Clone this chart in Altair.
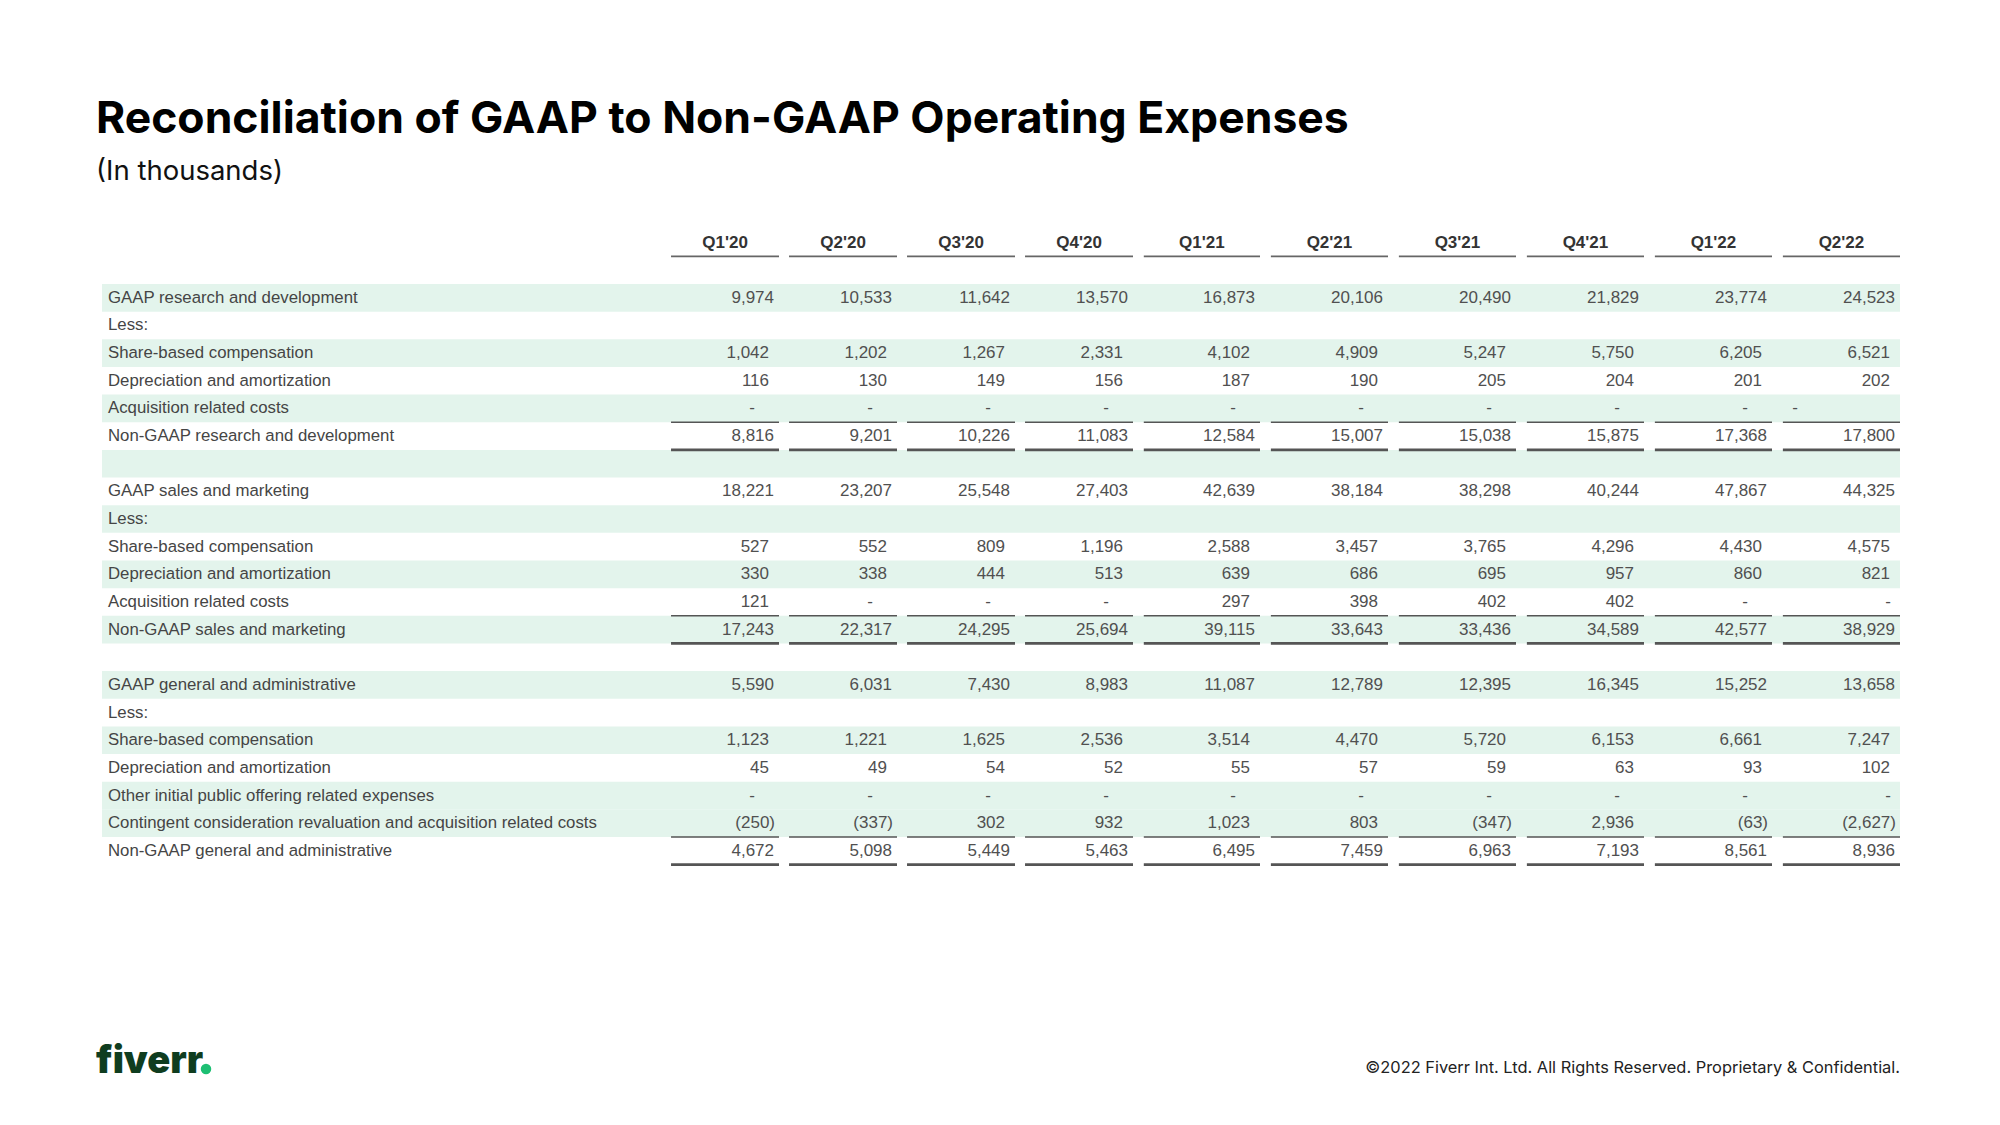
import altair as alt
import pandas as pd

TITLE = "Reconciliation of GAAP to Non-GAAP Operating Expenses"
SUBTITLE = "(In thousands)"
FOOTER = "©2022 Fiverr Int. Ltd. All Rights Reserved. Proprietary & Confidential."
LOGO = "fiverr"

QUARTERS = ["Q1'20", "Q2'20", "Q3'20", "Q4'20", "Q1'21", "Q2'21", "Q3'21", "Q4'21", "Q1'22", "Q2'22"]

ROW_LABELS = [
    "GAAP research and development", "Less:", "Share-based compensation",
    "Depreciation and amortization", "Acquisition related costs",
    "Non-GAAP research and development", "",
    "GAAP sales and marketing", "Less:", "Share-based compensation",
    "Depreciation and amortization", "Acquisition related costs",
    "Non-GAAP sales and marketing", "",
    "GAAP general and administrative", "Less:", "Share-based compensation",
    "Depreciation and amortization", "Other initial public offering related expenses",
    "Contingent consideration revaluation and acquisition related costs",
    "Non-GAAP general and administrative",
]

# None = "-"
rd_gaap = [9974, 10533, 11642, 13570, 16873, 20106, 20490, 21829, 23774, 24523]
rd_sbc = [1042, 1202, 1267, 2331, 4102, 4909, 5247, 5750, 6205, 6521]
rd_da = [116, 130, 149, 156, 187, 190, 205, 204, 201, 202]
rd_acq = [None, None, None, None, None, None, None, None, None, None]
rd_non = [8816, 9201, 10226, 11083, 12584, 15007, 15038, 15875, 17368, 17800]

sm_gaap = [18221, 23207, 25548, 27403, 42639, 38184, 38298, 40244, 47867, 44325]
sm_sbc = [527, 552, 809, 1196, 2588, 3457, 3765, 4296, 4430, 4575]
sm_da = [330, 338, 444, 513, 639, 686, 695, 957, 860, 821]
sm_acq = [121, None, None, None, 297, 398, 402, 402, None, None]
sm_non = [17243, 22317, 24295, 25694, 39115, 33643, 33436, 34589, 42577, 38929]

ga_gaap = [5590, 6031, 7430, 8983, 11087, 12789, 12395, 16345, 15252, 13658]
ga_sbc = [1123, 1221, 1625, 2536, 3514, 4470, 5720, 6153, 6661, 7247]
ga_da = [45, 49, 54, 52, 55, 57, 59, 63, 93, 102]
ga_ipo = [None, None, None, None, None, None, None, None, None, None]
ga_cont = [-250, -337, 302, 932, 1023, 803, -347, 2936, -63, -2627]
ga_non = [4672, 5098, 5449, 5463, 6495, 7459, 6963, 7193, 8561, 8936]

ROW_VALUES = [
    rd_gaap, None, rd_sbc, rd_da, rd_acq, rd_non, None,
    sm_gaap, None, sm_sbc, sm_da, sm_acq, sm_non, None,
    ga_gaap, None, ga_sbc, ga_da, ga_ipo, ga_cont, ga_non,
]

TOTAL_ROWS = [0, 5, 7, 12, 14, 20]
SUBTOTAL_ROWS = [5, 12, 20]
SHADED_ROWS = [0, 2, 4, 6, 8, 10, 12, 14, 16, 18, 19]
DASH_SPECIAL = {(4, 9): "left", (11, 9): "right", (18, 9): "right"}

FONT = "Liberation Sans"
TXT = "#505050"
SEG = 0.915  # segment width in column units

# ---------- build tables ----------
cells = []
for r, vals in enumerate(ROW_VALUES):
    if vals is None:
        continue
    for c, v in enumerate(vals):
        if v is None:
            kind = "dash_" + DASH_SPECIAL.get((r, c), "std")
            text = "-"
        elif r in TOTAL_ROWS:
            kind = "total"
            text = f"{v:,}"
        elif v < 0:
            kind = "neg"
            text = f"({-v:,})"
        else:
            kind = "pos"
            text = f"{v:,}"
        cells.append({"row": r, "col": c, "text": text, "kind": kind})
cells = pd.DataFrame(cells)

labels = pd.DataFrame({"row": list(range(len(ROW_LABELS))), "label": ROW_LABELS})
labels = labels[labels["label"] != ""]

shade = pd.DataFrame({"y0": [r - 0.5 for r in SHADED_ROWS], "y1": [r + 0.5 for r in SHADED_ROWS]})

header = pd.DataFrame({"q": QUARTERS, "col": list(range(len(QUARTERS)))})
header["xc"] = header["col"] - SEG / 2
header["xs"] = header["col"] - SEG
header["row"] = -2
header["yl"] = -1.5

thin = pd.DataFrame([{"xs": c - SEG, "xe": c, "y": r - 0.5} for r in SUBTOTAL_ROWS for c in range(len(QUARTERS))])
thick = pd.DataFrame([{"xs": c - SEG, "xe": c, "y": r + 0.5} for r in SUBTOTAL_ROWS for c in range(len(QUARTERS))])

XS = alt.Scale(domain=[0, 3, 4, 9], range=[771, 1125, 1252, 1892], zero=False, nice=False)
YS = alt.Scale(domain=[-2, 20], range=[234.5, 842.8], zero=False, nice=False)


def yq(field):
    return alt.Y(field, type="quantitative", scale=YS, axis=None)


def xq(field):
    return alt.X(field, type="quantitative", scale=XS, axis=None)


shade_layer = alt.Chart(shade).mark_rect(color="#e3f4ec").encode(
    x=alt.value(94), x2=alt.value(1892), y=yq("y0"), y2="y1:Q"
)

label_layer = alt.Chart(labels).mark_text(
    align="left", baseline="middle", font=FONT, fontSize=16.8, color="#454545"
).encode(x=alt.value(100), y=yq("row"), text="label:N")

header_text = alt.Chart(header).mark_text(
    align="center", baseline="middle", font=FONT, fontSize=17, fontWeight="bold", color="#333333"
).encode(x=xq("xc"), y=yq("row"), text="q:N")

header_line = alt.Chart(header).mark_rule(color="#666666", strokeWidth=1.8).encode(
    x=xq("xs"), x2="col:Q", y=yq("yl")
)

thin_line = alt.Chart(thin).mark_rule(color="#555555", strokeWidth=1.5).encode(
    x=xq("xs"), x2="xe:Q", y=yq("y")
)
thick_line = alt.Chart(thick).mark_rule(color="#555555", strokeWidth=2.8).encode(
    x=xq("xs"), x2="xe:Q", y=yq("y")
)


def num_layer(kind, align, dx):
    return alt.Chart(cells).transform_filter(alt.datum.kind == kind).mark_text(
        align=align, baseline="middle", font=FONT, fontSize=17, color=TXT, dx=dx
    ).encode(x=xq("col"), y=yq("row"), text="text:N")


nums = [
    num_layer("total", "right", -5),
    num_layer("pos", "right", -10),
    num_layer("neg", "right", -4),
    num_layer("dash_std", "center", -27),
    num_layer("dash_right", "center", -12),
    num_layer("dash_left", "center", -105),
]

one = pd.DataFrame({"t": [TITLE], "s": [SUBTITLE], "f": [FOOTER], "l": [LOGO]})

title = alt.Chart(one).mark_text(
    align="left", baseline="alphabetic", font="Inter", fontSize=44.5, fontWeight="bold", color="#000000"
).encode(x=alt.value(88), y=alt.value(125), text="t:N")

subtitle = alt.Chart(one).mark_text(
    align="left", baseline="alphabetic", font="Inter", fontSize=27.5, color="#111111"
).encode(x=alt.value(88), y=alt.value(171.5), text="s:N")

footer = alt.Chart(one).mark_text(
    align="right", baseline="alphabetic", font="Inter", fontSize=16.4, color="#222222"
).encode(x=alt.value(1892), y=alt.value(1065), text="f:N")

logo = alt.Chart(one).mark_text(
    align="left", baseline="alphabetic", font="Inter", fontSize=38, fontWeight=900,
    color="#0f3d1f"
).encode(x=alt.value(88), y=alt.value(1065), text="l:N")

logo_dot = alt.Chart(one).mark_circle(color="#1dbf73", opacity=1, size=110).encode(
    x=alt.value(198), y=alt.value(1061)
)

chart = alt.layer(
    shade_layer, label_layer, header_text, header_line, thin_line, thick_line,
    *nums, title, subtitle, footer, logo, logo_dot
).properties(
    width=1984, height=1109, autosize=alt.AutoSizeParams(type="none"), padding=0,
    background="#ffffff"
).configure_view(stroke=None)

chart.save("out.html", embed_options={"renderer": "svg", "actions": False})
